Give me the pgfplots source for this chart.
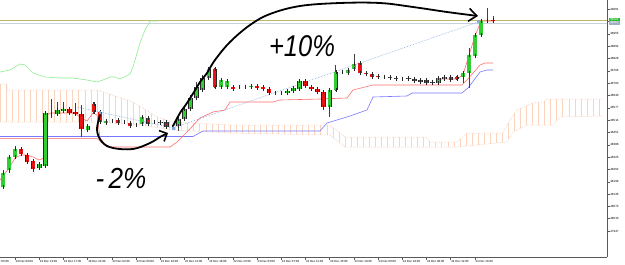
\documentclass[border=0pt]{standalone}
\usepackage{pgfplots}
\usepackage{pgfplotstable}
\pgfplotsset{compat=1.18}
\usetikzlibrary{patterns.meta,arrows.meta}
\usepackage{fontspec}
\setmainfont{Liberation Sans}
\definecolor{cgreen}{RGB}{50,205,50}
\definecolor{cred}{RGB}{235,20,20}
\definecolor{tenkan}{RGB}{255,110,110}
\definecolor{kijun}{RGB}{255,150,150}
\definecolor{bluel}{RGB}{120,120,255}
\definecolor{chikou}{RGB}{144,238,144}
\definecolor{cloudc}{RGB}{250,212,188}
\definecolor{cloudd}{RGB}{246,190,155}
\definecolor{trend}{RGB}{130,170,225}
\definecolor{khaki}{RGB}{189,183,107}
\definecolor{askl}{RGB}{200,208,220}
\definecolor{boxg}{RGB}{40,190,40}
\definecolor{boxs}{RGB}{160,176,196}

% candles: x = pixel position, h = high, l = low, t = body top, b = body bottom (pixel rows, top = 0)
\pgfplotstableread{
x h l t b
3.0 170 189 173 187
9.05 155 173 157 170
15.1 146 159 149 157
39.3 162 170 164 168
45.35 111 168 113 166
51.4 99 118 114 114
57.45 102 116 110 114
63.5 102 113 109 111
87.7 124 132 126 130
105.85 119 124 121 123
111.9 119 123 121 121
124.0 121 123 122 122
136.1 124 126 125 125
142.15 116 125 117 124
154.25 121 123 122 122
160.3 121 124 122 123
172.4 126 129 127 127
178.45 118 131 119 126
184.5 107 120 109 119
190.55 95 110 98 109
196.6 82 99 87 98
202.65 75 92 78 90
208.7 67 80 69 78
220.8 78 88 80 87
226.85 80 88 81 87
238.95 85 89 87 87
245.0 85 88 87 87
251.05 84 88 86 87
275.25 92 94 93 93
281.3 92 94 93 93
287.35 90 94 91 93
293.4 87 92 88 91
299.45 80 90 81 89
329.7 89 117 90 107
335.75 65 91 72 90
341.8 70 74 72 72
347.85 68 74 70 73
353.9 54 70 64 69
384.15 75 78 77 77
402.3 78 80 79 79
438.6 77 84 78 83
444.65 76 80 77 79
462.8 71 83 73 77
468.85 48 88 55 73
474.9 33 57 35 56
480.95 20 36 21 35
487.0 8 22 21 21
}\greentab

\pgfplotstableread{
x h l t b
21.15 147 156 149 154
27.2 153 164 155 162
33.25 159 172 161 169
69.55 107 115 109 113
75.6 103 116 112 114
81.65 105 137 114 129
93.75 102 114 104 112
99.8 110 124 112 122
117.95 119 124 120 123
130.05 122 127 123 126
148.2 117 125 118 124
166.35 121 128 122 127
214.75 68 88 69 87
232.9 86 90 87 89
257.1 85 89 86 88
263.15 86 90 87 89
269.2 88 94 89 93
305.5 79 87 81 86
311.55 86 90 87 89
317.6 88 94 89 92
323.65 91 110 92 107
359.95 62 74 63 73
366.0 72 76 73 74
372.05 73 78 74 77
378.1 75 78 76 77
390.2 76 79 77 78
396.25 77 80 78 79
408.35 77 80 78 79
414.4 78 82 79 81
420.45 79 83 80 82
426.5 79 84 80 83
432.55 81 84 82 83
450.7 76 81 77 80
456.75 76 80 77 79
493.05 16 23 20 21
}\redtab

\pgfplotsset{
  wick/.style={forget plot, draw=none, mark=none, error bars/.cd, y dir=plus, y explicit, error mark=none,
    error bar style={draw=black!75, line width=0.6pt}},
  bodyout/.style={forget plot, draw=none, mark=none, error bars/.cd, y dir=plus, y explicit, error mark=none,
    error bar style={draw=black!85, line width=4.4pt}},
  bodyin/.style={forget plot, draw=none, mark=none, error bars/.cd, y dir=both, y explicit, error mark=-,
    error mark options={draw=black!85, line width=0.5pt, mark size=2.2pt},
    error bar style={draw=#1, line width=3.4pt}},
}

\begin{document}
\begin{tikzpicture}
\path[use as bounding box, fill=white] (0pt,0pt) rectangle (625pt,265pt);
\begin{axis}[
  at={(0pt,265pt)}, anchor=north west,
  scale only axis, width=607pt, height=257pt,
  xmin=0, xmax=607, ymin=0, ymax=257, y dir=reverse,
  axis x line*=bottom, axis y line*=right,
  axis line style={black!65, line width=0.6pt},
  tick align=outside, major tick length=2.5pt,
  tick style={black!65, line width=0.5pt},
  xtick={15.1,39.3,63.5,87.7,111.9,136.1,160.3,184.5,208.7,232.9,257.1,281.3,305.5,329.7,353.9,378.1,402.3,426.5,450.7,474.9},
  xticklabels={19 Dec 09:00,19 Dec 13:00,19 Dec 17:00,19 Dec 21:00,22 Dec 02:00,22 Dec 06:00,22 Dec 10:00,22 Dec 14:00,22 Dec 18:00,22 Dec 23:00,23 Dec 03:00,23 Dec 07:00,23 Dec 11:00,23 Dec 15:00,23 Dec 19:00,24 Dec 00:00,24 Dec 04:00,24 Dec 08:00,24 Dec 12:00,24 Dec 16:00},
  ytick={9.3,21.62,33.94,46.26,58.58,70.9,83.22,95.54,107.86,120.18,132.5,144.82,157.14,169.46,181.78,194.1,206.42,218.74,231.06},
  yticklabels={49081,49018,48955,48892,48829,48766,48703,48640,48577,48514,48451,48388,48325,48262,48199,48136,48073,48010,47947},
  xticklabel style={anchor=north west, inner sep=0pt, xshift=0.4pt, yshift=-0.5pt, font=\fontsize{2.9}{3.2}\selectfont},
  yticklabel style={anchor=west, inner sep=0pt, xshift=0.6pt, font=\fontsize{3.0}{3.3}\selectfont},
  clip=false,
]
% Ichimoku cloud (outline polygon: upper span forward, lower span back)
\addplot[draw=none, pattern={Lines[angle=90,distance=6.05pt,line width=0.4pt]}, pattern color=cloudc, forget plot] coordinates {
(0,84) (7,84) (7,90) (97,90) (133,102) (157,117) (173,122) (230,125) (330,125) (345,137) (426,137) (430,142) (457,142) (467,133) (503,133) (510,120) (517,110) (533,103) (543,102) (547,99) (602,99)
(602,116) (560,117) (553,125) (527,125) (513,132) (507,142) (457,147) (345,147) (330,135) (230,133) (173,130) (140,125) (97,122) (0,122)};
\addplot[cloudd, densely dotted, line width=0.5pt, forget plot] coordinates {
(0,84) (7,84) (7,90) (97,90) (133,102) (157,117) (173,122) (230,125) (330,125) (345,137) (426,137) (430,142) (457,142) (467,133) (503,133) (510,120) (517,110) (533,103) (543,102) (547,99) (602,99)};
\addplot[cloudd, densely dotted, line width=0.5pt, forget plot] coordinates {
(602,116) (560,117) (553,125) (527,125) (513,132) (507,142) (457,147) (345,147) (330,135) (230,133) (173,130) (140,125) (97,122) (0,122)};

% price lines
\addplot[khaki, line width=0.8pt, forget plot] coordinates {(0,20.4) (607,20.4)};
\addplot[askl, line width=0.8pt, forget plot] coordinates {(0,23.3) (607,23.3)};

% chikou
\addplot[chikou, line width=0.6pt] coordinates {
(0,72) (10,70) (20,64) (25,65) (33,73) (45,77) (60,78) (73,78) (87,80) (97,82) (103,80) (110,77) (115,77) (120,79) (130,74) (133,67) (140,43) (145,30) (150,21) (158,21)};
% blue
\addplot[bluel, line width=0.6pt] coordinates {
(0,136.5) (193,136.5) (203,131) (230,131) (320,131) (327,123) (347,117) (367,110) (373,97) (407,96) (412,93) (462,93) (468,88) (480,72) (487,70) (493,70)};
% pink (left part)
\addplot[kijun, line width=0.6pt] coordinates {(0,138.5) (97,138.5) (107,147)};
% red
\addplot[tenkan, line width=0.6pt] coordinates {
(0,180) (9,168) (15,158) (21,155) (27,155) (33,157) (39,160) (44,158) (46,115) (51,113) (75,113) (81,118) (87,121) (93,113) (97,115) (100,138) (107,147) (170,147) (177,142) (187,132) (200,118) (213,112) (225,110) (230,102) (273,102) (280,100) (320,99) (347,98) (353,90) (373,85) (462,85) (467,80) (480,65) (485,63) (493,63)};
\addplot[tenkan, line width=0.6pt] coordinates {
(440,79) (457,79) (463,75) (469,55) (475,36) (481,21) (493,21)};

% trend lines
\addplot[trend, densely dotted, line width=0.6pt] coordinates {(77,107) (173,128)};
\addplot[trend, densely dotted, line width=0.6pt] coordinates {(173,128) (478,22)};
\addplot[only marks, mark=square*, mark size=0.8pt, color=trend] coordinates {(99.8,112) (173,128) (478,21)};

% candles
\addplot[wick] table[x=x, y=h, y error plus expr=\thisrow{l}-\thisrow{h}] {\greentab};
\addplot[wick] table[x=x, y=h, y error plus expr=\thisrow{l}-\thisrow{h}] {\redtab};
\addplot[bodyout] table[x=x, y=t, y error plus expr=\thisrow{b}-\thisrow{t}] {\greentab};
\addplot[bodyout] table[x=x, y=t, y error plus expr=\thisrow{b}-\thisrow{t}] {\redtab};
\addplot[bodyin=cgreen] table[x=x, y=t, y error plus expr=\thisrow{b}-\thisrow{t}, y error minus expr=0] {\greentab};
\addplot[bodyin=cred] table[x=x, y=t, y error plus expr=\thisrow{b}-\thisrow{t}, y error minus expr=0] {\redtab};

% hand-drawn annotations
\addplot[black, line width=1.8pt, smooth, tension=0.6, line cap=round, -{Straight Barb[length=6pt,width=12pt,line width=1.6pt]}] coordinates {
(100,115) (97,130) (102,142) (113,148) (133,149) (150,143) (160,137) (168,133)};
\addplot[black, line width=1.8pt, smooth, tension=0.6, line cap=round, -{Straight Barb[length=8pt,width=13pt,line width=1.6pt]}] coordinates {
(173,126) (180,113) (187,103) (194,92) (200,82) (207,73) (215,60) (230,42) (250,25) (270,14) (300,6) (340,3) (380,3) (413,7) (447,12) (478,16)};
\node[font=\fontsize{30}{30}\selectfont\itshape, xscale=0.85] at (axis cs:302,46) {+10\%};
\node[font=\fontsize{29}{29}\selectfont\itshape, xscale=0.9] at (axis cs:121,178) {-\,2\%};

% right-side price boxes and cut-off first time label
\node[fill=boxg, text=white, inner sep=0pt, anchor=west, minimum height=3.4pt, minimum width=11pt, font=\fontsize{3.0}{3.2}\selectfont] at (axis cs:608.5,19.3) {49024};
\node[fill=boxs, text=white, inner sep=0pt, anchor=west, minimum height=3.4pt, minimum width=11pt, font=\fontsize{3.0}{3.2}\selectfont] at (axis cs:608.5,22.8) {49012};
\node[anchor=north west, inner sep=0pt, xshift=0.4pt, yshift=-3.0pt, font=\fontsize{2.9}{3.2}\selectfont] at (axis cs:-9.1,257) {19 Dec 05:00};
\end{axis}
\end{tikzpicture}
\end{document}
